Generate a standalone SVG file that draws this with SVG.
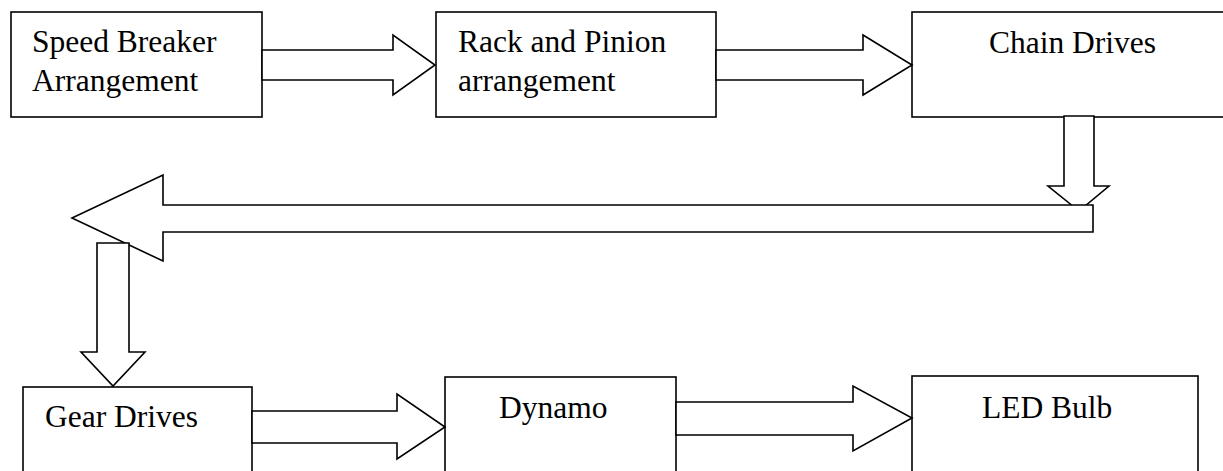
<svg xmlns="http://www.w3.org/2000/svg" width="1223" height="471" viewBox="0 0 1223 471">
<style>
.box{fill:#fff;stroke:#000;stroke-width:1.6}
.arr{fill:#fff;stroke:#000;stroke-width:1.6;stroke-linejoin:miter}
text{font-family:"Liberation Serif","Times New Roman",serif;font-size:31.5px;fill:#000}
</style>
<rect width="1223" height="471" fill="#fff"/>
<g id="n1"><rect class="box" x="11" y="12" width="251" height="105"/><text x="32" y="52">Speed Breaker</text><text x="32" y="91">Arrangement</text></g>
<g id="n2"><rect class="box" x="436" y="12" width="280" height="105"/><text x="458" y="52">Rack and Pinion</text><text x="458" y="91">arrangement</text></g>
<g id="n3"><rect class="box" x="912" y="12" width="315" height="105"/><text x="989" y="53">Chain Drives</text></g>
<g id="n4"><rect class="box" x="23" y="387" width="229" height="100"/><text x="45" y="427">Gear Drives</text></g>
<g id="n5"><rect class="box" x="445" y="377" width="231" height="110"/><text x="499" y="418">Dynamo</text></g>
<g id="n6"><rect class="box" x="912" y="376" width="286" height="110"/><text x="982" y="418">LED Bulb</text></g>
<g id="connectors">
<polygon class="arr" points="262,50 393,50 393,35 435,65 393,95 393,80 262,80"/>
<polygon class="arr" points="716,50 863,50 863,35 912,65 863,95 863,80 716,80"/>
<polygon class="arr" points="1064,116 1094,116 1094,186 1109,186 1079,211 1048,186 1064,186"/>
<polygon class="arr" points="1093,205 163,205 163,175 72,218 163,261 163,232 1093,232"/>
<polygon class="arr" points="97,243 129,243 129,352 145,352 113,386 81,352 97,352"/>
<polygon class="arr" points="252,411 397,411 397,394 445,427 397,459 397,443 252,443"/>
<polygon class="arr" points="676,402 853,402 853,386 912,418 853,451 853,435 676,435"/>
</g>
</svg>
